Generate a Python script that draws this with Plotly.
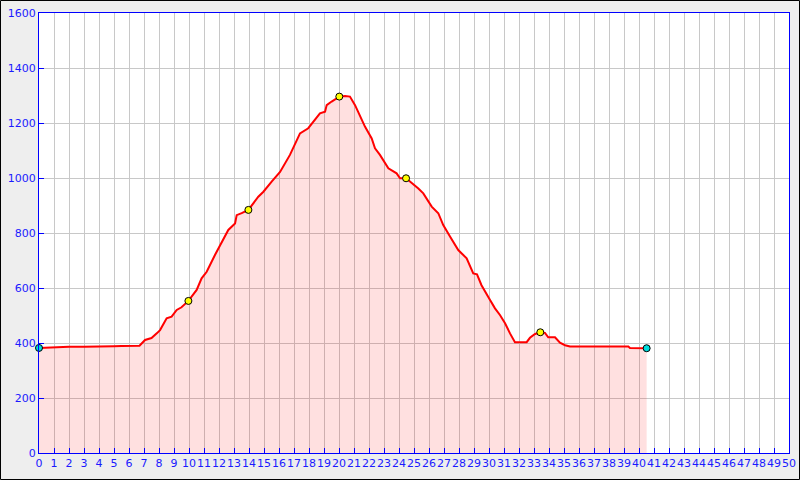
import plotly.graph_objects as go

# distance (km) and elevation (m)
distance = [0, 0.5, 1, 2, 3, 4, 5, 5.5, 6, 6.7, 7.07, 7.5, 7.87, 8.07, 8.51, 8.84, 9.18, 9.5,
            9.96, 10.51, 10.84, 11.18, 11.73, 12.18, 12.62, 13.07, 13.18, 13.51, 13.96, 14.62,
            14.96, 15.51, 16.07, 16.73, 17.4, 17.95, 18.29, 18.73, 19.07, 19.18, 19.51, 20.02,
            20.4, 20.73, 21.07, 21.4, 21.73, 22.18, 22.4, 22.73, 23.29, 23.84, 24.07, 24.47,
            24.95, 25.29, 25.62, 26.18, 26.62, 26.95, 27.4, 27.95, 28.51, 28.95, 29.2, 29.5,
            30.07, 30.4, 30.73, 31.07, 31.4, 31.73, 32.51, 32.73, 33.07, 33.42, 33.73, 33.95,
            34.4, 34.73, 35.07, 35.4, 36, 37, 38, 39.29, 39.4, 40.18, 40.51]
elevation = [382, 383, 386, 386, 386, 386, 388, 389, 389, 390, 411, 418, 436, 447, 490, 496, 520, 530,
             553, 593, 635, 659, 720, 768, 811, 835, 865, 872, 884, 932,
             950, 987, 1022, 1084, 1162, 1181, 1205, 1235, 1241, 1265, 1278, 1296,
             1298, 1296, 1265, 1223, 1187, 1144, 1108, 1084, 1035, 1017, 999, 999,
             978, 962, 944, 896, 872, 829, 787, 738, 708, 653, 650, 610,
             556, 526, 502, 472, 435, 403, 403, 419, 433, 439, 437, 421,
             421, 401, 392, 387, 387, 387, 387, 387, 382, 382, 381]

waypoint_distance = [0, 9.96, 13.96, 20.02, 24.47, 33.42, 40.51]
waypoint_elevation = [382, 553, 884, 1296, 999, 439, 381]
waypoint_colors = ["#00dddd", "#ffff00", "#ffff00", "#ffff00", "#ffff00", "#ffff00", "#00dddd"]

x_ticks = list(range(0, 51))
y_ticks = list(range(0, 1601, 200))

W, H = 800, 480
ML, MR, MT, MB = 39, 11, 13, 27
PW, PH = W - ML - MR, H - MT - MB

fig = go.Figure()
fig.add_trace(go.Scatter(
    x=distance, y=elevation, mode="lines", fill="tozeroy",
    fillcolor="rgba(255,0,0,0.12)", line=dict(color="#ff0000", width=2),
    hoverinfo="skip", showlegend=False))
fig.add_trace(go.Scatter(
    x=waypoint_distance, y=waypoint_elevation, mode="markers", cliponaxis=False,
    marker=dict(size=7, color=waypoint_colors, line=dict(color="#000000", width=1)),
    showlegend=False))

axis_common = dict(
    showline=True, linecolor="#0000ff", linewidth=1, mirror=True,
    ticks="inside", ticklen=5, tickcolor="#0000ff", tickwidth=1,
    showgrid=True, gridcolor="#c8c8c8", gridwidth=1, zeroline=False,
    tickfont=dict(family="DejaVu Sans", size=11, color="#1a1aff"),
    automargin=False, tickangle=0,
)
fig.update_xaxes(range=[0, 50], tickvals=x_ticks, ticktext=[str(v) for v in x_ticks], **axis_common)
fig.update_yaxes(range=[0, 1600], tickvals=y_ticks, ticktext=[str(v) for v in y_ticks], **axis_common)

fig.add_shape(type="rect", xref="paper", yref="paper",
              x0=(0.5 - ML) / PW, x1=(W - 0.5 - ML) / PW,
              y0=(H - MB - (H - 0.5)) / PH, y1=(H - MB - 0.5) / PH,
              line=dict(color="#000000", width=1), fillcolor="rgba(0,0,0,0)", layer="above")

fig.update_layout(
    width=W, height=H, margin=dict(l=ML, r=MR, t=MT, b=MB, pad=0),
    paper_bgcolor="#eeeeee", plot_bgcolor="#ffffff",
    font=dict(family="DejaVu Sans", size=11, color="#1a1aff"),
)
fig.write_html("out.html", config={"displayModeBar": False},
               post_script="document.body.style.margin='0px';document.body.style.padding='0px';")
